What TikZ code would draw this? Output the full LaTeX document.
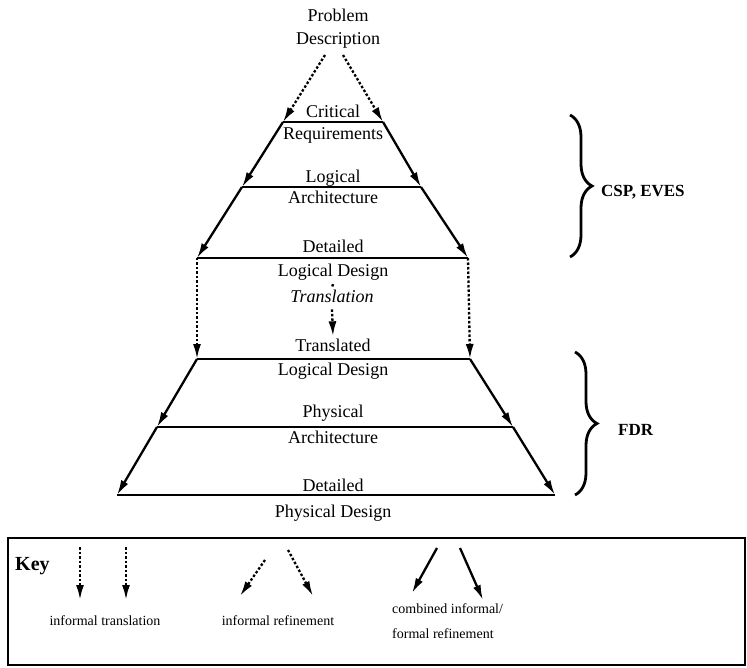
\documentclass[tikz,border=0pt]{standalone}
\usepackage{fontspec}
\setmainfont{Liberation Serif}
\usepackage{tikz}
\usetikzlibrary{arrows.meta,decorations.pathreplacing}

\tikzset{
  level/.style={line width=2.6pt},
  formal/.style={line width=2.3pt,-{Latex[length=15pt,width=8pt]}},
  informal/.style={line width=2.3pt,dash pattern=on 2.5pt off 2pt,-{Latex[length=15pt,width=8pt]}},
  stub/.style={line width=2.3pt,dash pattern=on 2.5pt off 2pt},
  lbl/.style={font=\fontsize{18}{20}\selectfont,inner sep=0pt,anchor=base},
  keylbl/.style={font=\fontsize{14}{25}\selectfont,inner sep=0pt},
  tool/.style={font=\fontsize{17}{20}\selectfont\bfseries,anchor=base west,inner sep=0pt},
  brc/.style={decorate,decoration={brace,amplitude=22pt},line width=2.8pt}
}

\begin{document}
\begin{tikzpicture}[x=1pt,y=-1pt]
\useasboundingbox (0,0) rectangle (747,668);

\node [lbl] (prob1) at (338,22) {Problem};
\node [lbl] (prob2) at (338,45) {Description};

% level ends
\coordinate (l1) at (283,122); \coordinate (r1) at (383,122);
\coordinate (l2) at (242,187); \coordinate (r2) at (421,187);
\coordinate (l3) at (197,258); \coordinate (r3) at (468,258);
\coordinate (l4) at (197,359); \coordinate (r4) at (470,359);
\coordinate (l5) at (157,427); \coordinate (r5) at (513,427);
\coordinate (l6) at (117,495); \coordinate (r6) at (555,495);

\draw [level] (l1) -- (r1);
\draw [level] (l2) -- (r2);
\draw [level] (l3) -- (r3);
\draw [level] (l4) -- (r4);
\draw [level] (l5) -- (r5);
\draw [level] (l6) -- (r6);

\node [lbl] (crit) at (333,118) {Critical};
\node [lbl] (req) at (333,140) {Requirements};
\node [lbl] (logic) at (333,183) {Logical};
\node [lbl] (arch) at (333,204) {Architecture};
\node [lbl] (det) at (333,253) {Detailed};
\node [lbl] (dld) at (333,277) {Logical Design};
\node [lbl,font=\fontsize{18}{20}\selectfont\itshape] (trans) at (332,303) {Translation};
\node [lbl] (tr) at (333,352) {Translated};
\node [lbl] (tld) at (333,375) {Logical Design};
\node [lbl] (phys) at (333,417) {Physical};
\node [lbl] (parch) at (333,443) {Architecture};
\node [lbl] (pdet) at (333,491) {Detailed};
\node [lbl] (pdes) at (333,517) {Physical Design};

\draw [informal] ([xshift=-13pt,yshift=-6pt]prob2.south) -- (l1);
\draw [informal] ([xshift=5pt,yshift=-6pt]prob2.south) -- (r1);

\draw [formal] (l1) -- (l2);
\draw [formal] (r1) -- (r2);
\draw [formal] (l2) -- (l3);
\draw [formal] (r2) -- (r3);

\draw [informal] (l3) -- (l4);
\draw [informal] (r3) -- (r4);
\draw [stub] ([yshift=-3pt]dld.south) -- ([yshift=3pt]trans.north);
\draw [informal] ([yshift=-6pt]trans.south) -- ([yshift=3pt]tr.north);

\draw [formal] (l4) -- (l5);
\draw [formal] (r4) -- (r5);
\draw [formal] (l5) -- (l6);
\draw [formal] (r5) -- (r6);

% tools
\coordinate (b1) at (570,115); \coordinate (b2) at (570,257);
\coordinate (b3) at (575,352); \coordinate (b4) at (575,495);
\draw [brc] (b1) -- (b2);
\draw [brc] (b3) -- (b4);
\node [tool] (csp) at (601,197) {CSP, EVES};
\node [tool] (fdr) at (618,435) {FDR};

% key
\draw [line width=2.4pt] (8,538) rectangle (745,665);
\node [font=\fontsize{20}{22}\selectfont\bfseries,anchor=base west,inner sep=0pt] (key) at (15,570) {Key};

\coordinate (k1) at (80,547);  \coordinate (k2) at (80,600);
\coordinate (k3) at (126,547); \coordinate (k4) at (126,600);
\draw [informal] (k1) -- (k2);
\draw [informal] (k3) -- (k4);
\node [keylbl,anchor=base] (kt) at (105,625) {informal translation};

\coordinate (k5) at (265,560); \coordinate (k6) at (240,596);
\coordinate (k7) at (288,550); \coordinate (k8) at (313,596);
\draw [informal] (k5) -- (k6);
\draw [informal] (k7) -- (k8);
\node [keylbl,anchor=base] (kr) at (278,625) {informal refinement};

\coordinate (k9) at (437,548);  \coordinate (k10) at (412,593);
\coordinate (k11) at (460,548); \coordinate (k12) at (483,600);
\draw [formal] (k9) -- (k10);
\draw [formal] (k11) -- (k12);
\node [keylbl,align=left,anchor=north west] (kc) at (392,603) {combined informal/\\formal refinement};

\end{tikzpicture}
\end{document}
